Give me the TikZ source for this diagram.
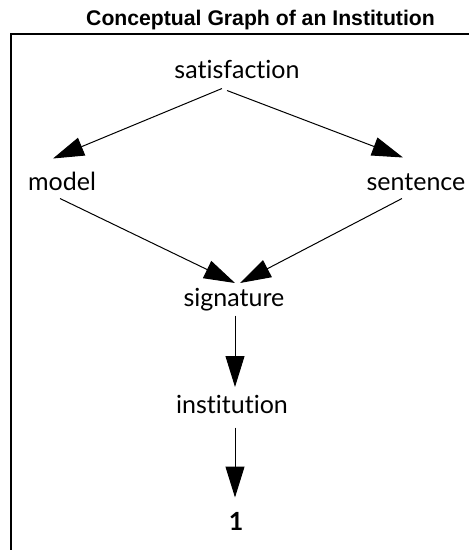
\documentclass[tikz,border=0pt]{standalone}
\usepackage{fontspec}
\setmainfont{Liberation Sans}
\newfontfamily\nodefont[Ligatures=NoCommon]{Lato}
\usetikzlibrary{arrows.meta}

\begin{document}
\begin{tikzpicture}[x=1pt,y=-1pt,->,>={Triangle[length=31pt,width=19pt]},
        line width=1pt,
        main node/.style={inner sep=8pt,text height=17.5pt,text depth=0pt,anchor=base,
            font=\nodefont\fontsize{25}{28}\selectfont},
        title node/.style={anchor=base,font=\bfseries\fontsize{21.2}{25}\selectfont}]
    \useasboundingbox (0,0) rectangle (469,550);

    \node[title node] (title) at (260.5,25) {Conceptual Graph of an Institution};
    \draw [-,line width=2pt] (469,34) -- (11,34) -- (11,550);

    \node[main node] (sat) at (237,78) {satisfaction};
    \node[main node] (model) at (62,190) {model};
    \node[main node] (sen) at (416,190) {sentence};
    \node[main node] (sig) at (234,306) {signature};
    \node[main node] (inst) at (232,413) {institution};
    \node[main node,font=\nodefont\bfseries\fontsize{25}{28}\selectfont] (one) at (236,530) {1};

    \draw [->] ([xshift=-15pt,yshift=-2pt]sat.south) -- ([xshift=-9pt,yshift=5.5pt]model.north);
    \draw [->] ([xshift=-10pt,yshift=-4pt]sat.south) -- ([xshift=-13pt,yshift=6.5pt]sen.north);
    \draw [->] ([xshift=-2pt]model.south) -- ([xshift=1pt,yshift=-3pt]sig.north);
    \draw [->] ([xshift=-14pt]sen.south) -- ([xshift=6pt,yshift=-3pt]sig.north);
    \draw [->] ([xshift=1pt,yshift=-1pt]sig.south) -- ([xshift=3pt]inst.north);
    \draw [->] ([xshift=3pt,yshift=-6pt]inst.south) -- ([xshift=-1pt,yshift=6.5pt]one.north);
\end{tikzpicture}
\end{document}
